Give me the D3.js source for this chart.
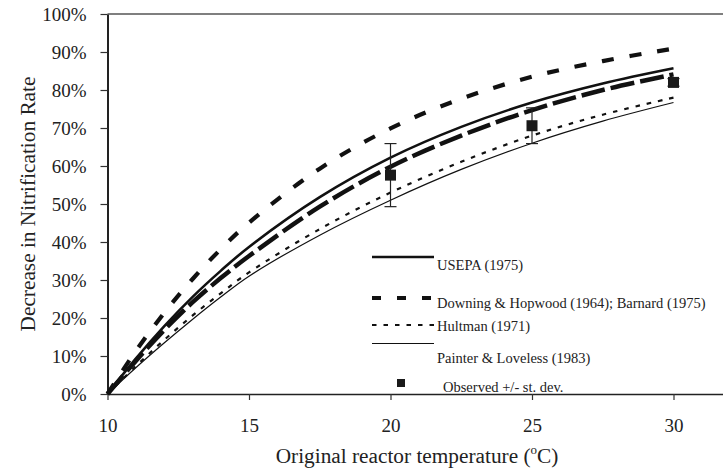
<!DOCTYPE html>
<html>
<head>
<meta charset="utf-8">
<script src="https://cdn.jsdelivr.net/npm/d3@7"></script>
<style>
body { margin: 0; background: #fff; }
text { font-family: "Liberation Serif", "Times New Roman", serif; fill: #222; }
</style>
</head>
<body>
<div class="chart"></div>
<script>
var width = 723;
var height = 469;

// temperatures (deg C) where curves were read
var temps = [10, 11, 12, 13, 14, 15, 17.5, 20, 22.5, 25, 27.5, 30];

var usepa    = [0, 0.093, 0.178, 0.255, 0.324, 0.387, 0.518, 0.622, 0.703, 0.767, 0.817, 0.857];
var downing  = [0, 0.113, 0.213, 0.302, 0.381, 0.451, 0.593, 0.699, 0.777, 0.835, 0.876, 0.909];
var fitLine  = [0, 0.087, 0.168, 0.241, 0.305, 0.363, 0.493, 0.598, 0.68, 0.747, 0.80, 0.841];
var hultman  = [0, 0.073, 0.142, 0.206, 0.265, 0.32, 0.434, 0.53, 0.611, 0.68, 0.735, 0.78];
var painter  = [0, 0.069, 0.134, 0.196, 0.255, 0.31, 0.418, 0.51, 0.591, 0.66, 0.718, 0.767];

var obsTemp = [20, 25, 30];
var obsMean = [0.576, 0.706, 0.82];
var obsSd   = [0.083, 0.047, 0.01];

var xTicks = [10, 15, 20, 25, 30];
var yTicks = [0, 0.1, 0.2, 0.3, 0.4, 0.5, 0.6, 0.7, 0.8, 0.9, 1.0];

var svg = d3.select('.chart')
	.append('svg')
	.attr('width', width)
	.attr('height', height)

var x = d3.scaleLinear().domain([10, 32]).range([107.5, 730.1])
var y = d3.scaleLinear().domain([0, 1]).range([394, 14])

// top border of plot area
svg.append('line')
	.attr('x1', x(10)).attr('x2', width)
	.attr('y1', y(1)).attr('y2', y(1))
	.attr('stroke', '#555').attr('stroke-width', 1.3)

var yAxis = svg.append('g')
	.attr('transform', 'translate(' + x(10) + ',0)')
	.call(d3.axisLeft(y).tickValues(yTicks).tickSize(7).tickSizeOuter(0).tickPadding(14).tickFormat(d3.format('.0%')))
yAxis.select('.domain').attr('stroke', '#222').attr('stroke-width', 2)
yAxis.selectAll('.tick line').attr('stroke', '#333').attr('stroke-width', 1.2)
yAxis.selectAll('text').attr('font-size', 19).style('font-family', '"Liberation Serif", serif').attr('fill', '#222')

var xAxis = svg.append('g')
	.attr('transform', 'translate(0,' + y(0) + ')')
	.call(d3.axisBottom(x).tickValues(xTicks).tickSize(6).tickSizeOuter(0).tickPadding(19))
xAxis.select('.domain').attr('stroke', '#222').attr('stroke-width', 1.5)
xAxis.selectAll('.tick line').attr('stroke', '#333').attr('stroke-width', 1.2)
xAxis.selectAll('text').attr('font-size', 19).style('font-family', '"Liberation Serif", serif').attr('fill', '#222')

// axis titles
var xt = svg.append('text')
	.attr('x', 417).attr('y', 463)
	.attr('text-anchor', 'middle')
	.attr('font-size', 21.3)
xt.append('tspan').text('Original reactor temperature (')
xt.append('tspan').attr('font-size', 13).attr('dy', -9).text('o')
xt.append('tspan').attr('dy', 9).text('C)')

svg.append('text')
	.attr('transform', 'translate(35,204) rotate(-90)')
	.attr('text-anchor', 'middle')
	.attr('font-size', 21.3)
	.text('Decrease in Nitrification Rate')

var series = [
	{name: 'fit', vals: fitLine, w: 4.5, dash: '24,6'},
	{name: 'Painter', vals: painter, w: 1.2, dash: null},
	{name: 'Hultman', vals: hultman, w: 2.2, dash: '4.5,7'},
	{name: 'USEPA', vals: usepa, w: 2.6, dash: null},
	{name: 'Downing', vals: downing, w: 4.2, dash: '12,16'}
]

var line = d3.line()
	.x(function(d, i){ return x(temps[i]) })
	.y(function(d){ return y(d) })
	.curve(d3.curveCatmullRom.alpha(0.5))

svg.selectAll('.curve')
	.data(series)
	.enter().append('path')
	.attr('class', 'curve')
	.attr('d', function(d){ return line(d.vals) })
	.attr('fill', 'none')
	.attr('stroke', '#111')
	.attr('stroke-width', function(d){ return d.w })
	.attr('stroke-dasharray', function(d){ return d.dash })

// observed with error bars
var obs = obsTemp.map(function(t, i){ return {t: t, m: obsMean[i], s: obsSd[i]} })

var eb = svg.selectAll('.err')
	.data(obs)
	.enter().append('g')
	.attr('class', 'err')
	.attr('stroke', '#222')
	.attr('stroke-width', 1.2)
eb.append('line')
	.attr('x1', function(d){ return x(d.t) }).attr('x2', function(d){ return x(d.t) })
	.attr('y1', function(d){ return y(d.m + d.s) }).attr('y2', function(d){ return y(d.m - d.s) })
eb.append('line')
	.attr('x1', function(d){ return x(d.t) - 6 }).attr('x2', function(d){ return x(d.t) + 6 })
	.attr('y1', function(d){ return y(d.m + d.s) }).attr('y2', function(d){ return y(d.m + d.s) })
eb.append('line')
	.attr('x1', function(d){ return x(d.t) - 6 }).attr('x2', function(d){ return x(d.t) + 6 })
	.attr('y1', function(d){ return y(d.m - d.s) }).attr('y2', function(d){ return y(d.m - d.s) })

svg.selectAll('.obs')
	.data(obs)
	.enter().append('rect')
	.attr('class', 'obs')
	.attr('x', function(d){ return x(d.t) - 5.5 })
	.attr('y', function(d){ return y(d.m) - 5.5 })
	.attr('width', 11)
	.attr('height', 11)
	.attr('fill', '#1a1a1a')

// legend
var legend = [
	{label: 'USEPA (1975)', ly: 257, ty: 269.5, w: 2.6, dash: null},
	{label: 'Downing & Hopwood (1964); Barnard (1975)', ly: 298, ty: 308, w: 4.2, dash: '9,16'},
	{label: 'Hultman (1971)', ly: 325, ty: 331, w: 2.2, dash: '4.5,7'},
	{label: 'Painter & Loveless (1983)', ly: 343.5, ty: 363, w: 1.2, dash: null}
]

var lg = svg.selectAll('.leg')
	.data(legend)
	.enter().append('g')
	.attr('class', 'leg')
lg.append('line')
	.attr('x1', 372).attr('x2', 434)
	.attr('y1', function(d){ return d.ly }).attr('y2', function(d){ return d.ly })
	.attr('stroke', '#111')
	.attr('stroke-width', function(d){ return d.w })
	.attr('stroke-dasharray', function(d){ return d.dash })
lg.append('text')
	.attr('x', 437)
	.attr('y', function(d){ return d.ty })
	.attr('font-size', 14.5)
	.text(function(d){ return d.label })

svg.append('rect')
	.attr('x', 397).attr('y', 379)
	.attr('width', 8).attr('height', 8)
	.attr('fill', '#1a1a1a')
svg.append('text')
	.attr('x', 443).attr('y', 391.5)
	.attr('font-size', 14.5)
	.text('Observed +/- st. dev.')
</script>
</body>
</html>
